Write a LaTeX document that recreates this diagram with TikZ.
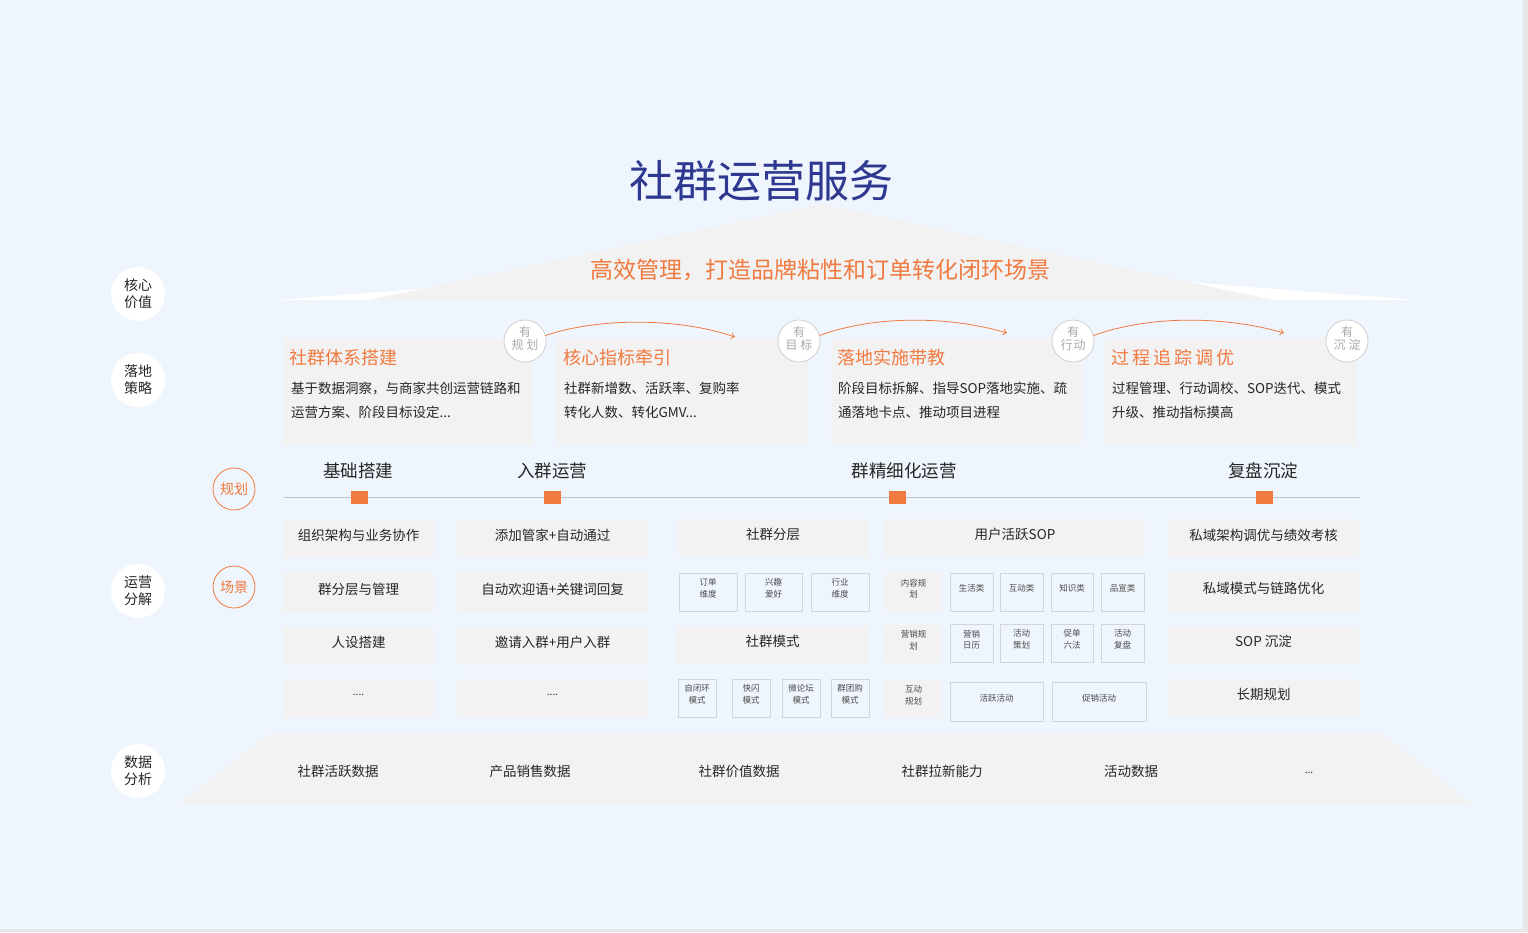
\documentclass[tikz,border=0pt]{standalone}
\usepackage{fontspec}
\setmainfont{Noto Sans CJK SC}
\usetikzlibrary{arrows.meta}
\definecolor{bg}{HTML}{EFF5FD}
\definecolor{edgegrey}{HTML}{E6E7E9}
\definecolor{boxgrey}{HTML}{F2F2F2}
\definecolor{orange}{HTML}{F07A40}
\definecolor{titleblue}{HTML}{2E3890}
\definecolor{darktext}{HTML}{262626}
\definecolor{midtext}{HTML}{4A4A4A}
\definecolor{badgetext}{HTML}{A9A9A9}
\definecolor{badgeline}{HTML}{CFCFCF}
\definecolor{phaseline}{HTML}{BEC3CA}
\definecolor{outline}{HTML}{D2D6DC}
\newcommand\cellbox[8]{%
  \node[#6, minimum width={(#4-#2)*1pt}, minimum height={(#5-#3)*1pt}] (#1) at ({(#2+#4)/2},{(#3+#5)/2}) {};
  \node[#7] (#1t) at ([yshift=3.5pt]#1.center) {#8};}
\newcommand\badgeat[4]{%
  \node[badge] (#1) at (#2,#3) {};
  \node[badgetxt] (#1t) at ([yshift=2.5pt]#1.center) {#4};}
\begin{document}
\begin{tikzpicture}[x=1pt,y=-1pt,
  every node/.style={inner sep=0pt, outer sep=0pt},
  gbox/.style={fill=boxgrey},
  obox/.style={fill=bg, draw=outline, line width=0.8pt},
  bigtxt/.style={font=\fontsize{13.5}{16}\selectfont, text=darktext},
  smalltxt/.style={font=\fontsize{8.5}{11.5}\selectfont, text=midtext, align=center},
  dotstxt/.style={font=\fontsize{10}{12}\selectfont, text=darktext},
  sidecirc/.style={circle, fill=white, minimum size=54pt, align=center, font=\fontsize{14}{17}\selectfont, text=darktext},
  ocirc/.style={circle, draw=orange, line width=0.8pt, minimum size=42pt, font=\fontsize{14}{16}\selectfont, text=orange},
  badge/.style={circle, fill=white, draw=badgeline, line width=0.8pt, minimum size=42pt},
  badgetxt/.style={align=center, font=\fontsize{12}{13}\selectfont, text=badgetext},
  stitle/.style={anchor=west, font=\fontsize{18}{20}\selectfont, text=orange},
  sbody/.style={anchor=west, align=left, font=\fontsize{13.5}{24}\selectfont, text=darktext},
  phasetxt/.style={font=\fontsize{17.5}{20}\selectfont, text=darktext},
  osq/.style={fill=orange, minimum width=17pt, minimum height=13pt},
  arr/.style={draw=orange, line width=0.8pt, -{To[length=4pt,width=7pt]}},
  datatxt/.style={font=\fontsize{13.5}{16}\selectfont, text=darktext}
]
\useasboundingbox (0,0) rectangle (1528,932);
\fill[edgegrey] (0,0) rectangle (1528,932);
\fill[bg] (0,0) rectangle (1523,929);

% roof
\fill[white] (276,300) -- (850,256) -- (1418,300) -- cycle;
\fill[boxgrey] (369,300) -- (822,204) -- (1273,300) -- cycle;
\node[font=\fontsize{44}{46}\selectfont, text=titleblue] (title) at (761,181) {社群运营服务};
\node[font=\fontsize{23}{25}\selectfont, text=orange] (sub) at (820,270) {高效管理，打造品牌粘性和订单转化闭环场景};

% side labels
\node[sidecirc] (c1) at (138,294) {核心\\价值};
\node[sidecirc] (c2) at (138,380) {落地\\策略};
\node[sidecirc] (c3) at (138,591) {运营\\分解};
\node[sidecirc] (c4) at (138,771) {数据\\分析};
\node[ocirc] (o1) at (234,489) {规划};
\node[ocirc] (o2) at (234,587) {场景};

% strategy boxes
\cellbox{s1}{283}{338}{533}{445}{gbox}{bigtxt}{}
\cellbox{s2}{557}{338}{808}{445}{gbox}{bigtxt}{}
\cellbox{s3}{831}{338}{1082}{445}{gbox}{bigtxt}{}
\cellbox{s4}{1105}{338}{1356}{445}{gbox}{bigtxt}{}
\node[stitle] (s1h) at (289,358) {社群体系搭建};
\node[stitle] (s2h) at (563,358) {核心指标牵引};
\node[stitle] (s3h) at (837,358) {落地实施带教};
\node[stitle] (s4h) at (1111,358) {过\kern3pt 程\kern3pt 追\kern3pt 踪\kern3pt 调\kern3pt 优};
\node[sbody] (s1b) at (291,400) {基于数据洞察，与商家共创运营链路和\\运营方案、阶段目标设定...};
\node[sbody] (s2b) at (564,400) {社群新增数、活跃率、复购率\\转化人数、转化GMV...};
\node[sbody] (s3b) at (838,400) {阶段目标拆解、指导SOP落地实施、疏\\通落地卡点、推动项目进程};
\node[sbody] (s4b) at (1112,400) {过程管理、行动调校、SOP迭代、模式\\升级、推动指标摸高};

% badges
\badgeat{b1}{525}{341}{有\\规\kern3pt 划}
\badgeat{b2}{799}{341}{有\\目\kern3pt 标}
\badgeat{b3}{1073}{341}{有\\行\kern1pt 动}
\badgeat{b4}{1347}{341}{有\\沉\kern3pt 淀}
\coordinate (a1) at (735,337);
\coordinate (a2) at (1007,333);
\coordinate (a3) at (1284,333);
\draw[arr] (b1.15) .. controls (600,317) and (680,318) .. (a1);
\draw[arr] (b2.15) .. controls (875,315) and (950,316) .. (a2);
\draw[arr] (b3.15) .. controls (1150,315) and (1225,316) .. (a3);

% phases
\node[phasetxt] (p1) at (358,471) {基础搭建};
\node[phasetxt] (p2) at (552,471) {入群运营};
\node[phasetxt] (p3) at (904,471) {群精细化运营};
\node[phasetxt] (p4) at (1263,471) {复盘沉淀};
\coordinate (pl) at (284,497);
\coordinate (pr) at (1360,497);
\draw[phaseline, line width=0.9pt] (pl) -- (pr);
\node[osq] (q1) at (359,497) {};
\node[osq] (q2) at (552,497) {};
\node[osq] (q3) at (897,497) {};
\node[osq] (q4) at (1264,497) {};

% column 1
\cellbox{g11}{283}{520}{434}{558}{gbox}{bigtxt}{组织架构与业务协作}
\cellbox{g12}{283}{573}{434}{612}{gbox}{bigtxt}{群分层与管理}
\cellbox{g13}{283}{627}{434}{665}{gbox}{bigtxt}{人设搭建}
\cellbox{g14}{283}{679}{434}{718}{gbox}{dotstxt}{....}
% column 2
\cellbox{g21}{457}{520}{648}{558}{gbox}{bigtxt}{添加管家+自动通过}
\cellbox{g22}{457}{573}{648}{612}{gbox}{bigtxt}{自动欢迎语+关键词回复}
\cellbox{g23}{457}{627}{648}{665}{gbox}{bigtxt}{邀请入群+用户入群}
\cellbox{g24}{457}{679}{648}{718}{gbox}{dotstxt}{....}
% column 3
\cellbox{g31}{678}{519}{868}{557}{gbox}{bigtxt}{社群分层}
\cellbox{g32a}{679}{573}{737}{611}{obox}{smalltxt}{订单\\维度}
\cellbox{g32b}{745}{573}{802}{611}{obox}{smalltxt}{兴趣\\爱好}
\cellbox{g32c}{811}{573}{869}{611}{obox}{smalltxt}{行业\\维度}
\cellbox{g33}{677}{626}{868}{664}{gbox}{bigtxt}{社群模式}
\cellbox{g34a}{678}{679}{716}{717}{obox}{smalltxt}{自闭环\\模式}
\cellbox{g34b}{732}{679}{770}{717}{obox}{smalltxt}{快闪\\模式}
\cellbox{g34c}{782}{679}{820}{717}{obox}{smalltxt}{微论坛\\模式}
\cellbox{g34d}{831}{679}{869}{717}{obox}{smalltxt}{群团购\\模式}
% column 4
\cellbox{g41}{885}{519}{1145}{557}{gbox}{bigtxt}{用户活跃SOP}
\cellbox{g42l}{885}{573}{942}{611}{gbox}{smalltxt}{内容规\\划}
\cellbox{g42a}{950}{573}{993}{611}{obox}{smalltxt}{生活类}
\cellbox{g42b}{1000}{573}{1043}{611}{obox}{smalltxt}{互动类}
\cellbox{g42c}{1051}{573}{1093}{611}{obox}{smalltxt}{知识类}
\cellbox{g42d}{1101}{573}{1144}{611}{obox}{smalltxt}{品宣类}
\cellbox{g43l}{885}{625}{942}{663}{gbox}{smalltxt}{营销规\\划}
\cellbox{g43a}{950}{624}{993}{662}{obox}{smalltxt}{营销\\日历}
\cellbox{g43b}{1000}{624}{1043}{662}{obox}{smalltxt}{活动\\策划}
\cellbox{g43c}{1051}{624}{1093}{662}{obox}{smalltxt}{促单\\六法}
\cellbox{g43d}{1101}{624}{1144}{662}{obox}{smalltxt}{活动\\复盘}
\cellbox{g44l}{885}{680}{942}{718}{gbox}{smalltxt}{互动\\规划}
\cellbox{g44a}{950}{682}{1043}{721}{obox}{smalltxt}{活跃活动}
\cellbox{g44b}{1052}{682}{1146}{721}{obox}{smalltxt}{促销活动}
% column 5
\cellbox{g51}{1168}{519}{1359}{558}{gbox}{bigtxt}{私域架构调优与绩效考核}
\cellbox{g52}{1168}{573}{1359}{611}{gbox}{bigtxt}{私域模式与链路优化}
\cellbox{g53}{1168}{626}{1359}{664}{gbox}{bigtxt}{SOP 沉淀}
\cellbox{g54}{1168}{679}{1359}{717}{gbox}{bigtxt}{长期规划}

% data row
\fill[boxgrey] (180,803) -- (269,734) -- (1383,734) -- (1472,804) -- cycle;
\node[datatxt] (d1) at (338,771) {社群活跃数据};
\node[datatxt] (d2) at (530,771) {产品销售数据};
\node[datatxt] (d3) at (739,771) {社群价值数据};
\node[datatxt] (d4) at (942,771) {社群拉新能力};
\node[datatxt] (d5) at (1131,771) {活动数据};
\node[dotstxt] (d6) at (1309,773) {...};
\end{tikzpicture}
\end{document}
